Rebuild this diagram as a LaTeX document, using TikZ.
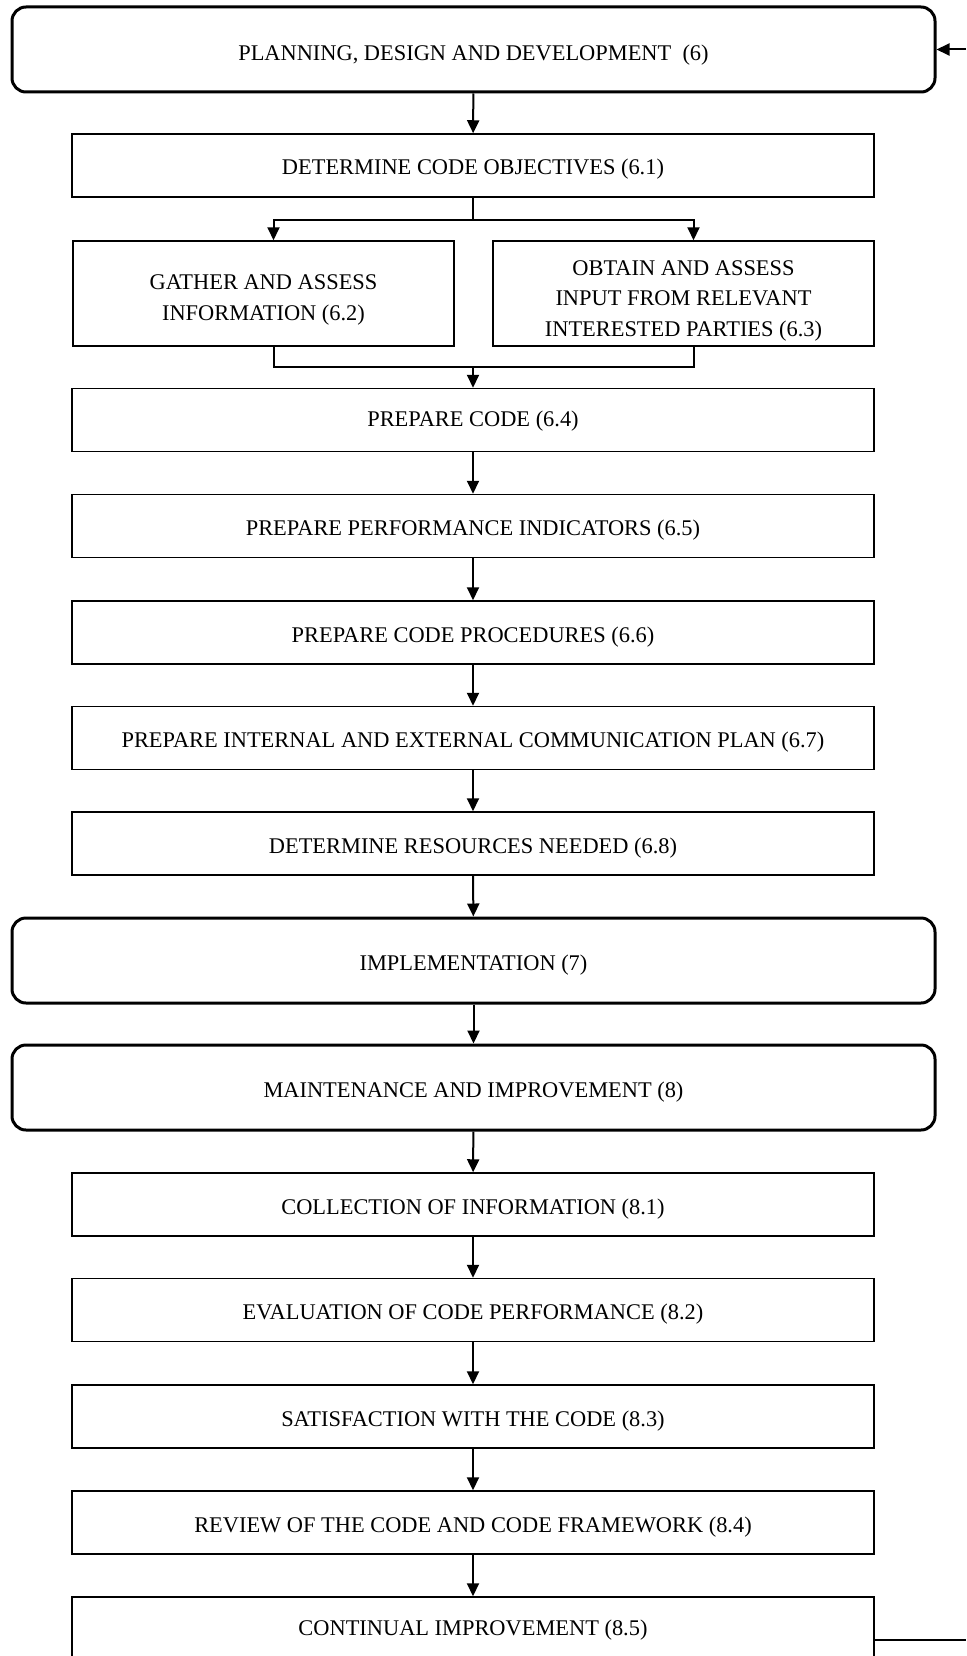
\documentclass[tikz,border=0pt]{standalone}
\usepackage{fontspec}
\setmainfont{Liberation Serif}
\usetikzlibrary{arrows.meta,calc}
\begin{document}
\begin{tikzpicture}[x=1pt,y=-1pt,
  every node/.style={font=\fontsize{22.4}{30.5}\selectfont, align=center, inner sep=0pt},
  stepbox/.style={draw, line width=1.5pt, minimum width=802pt, minimum height=63pt, text height=22pt, text depth=3pt},
  halfbox/.style={draw, line width=1.5pt, minimum width=381pt, minimum height=105pt},
  phasebox/.style={draw, line width=3pt, rounded corners=14pt, minimum width=923pt, minimum height=85pt, text height=22pt, text depth=3pt},
  arr/.style={line width=2pt, -{Triangle[length=13pt,width=12pt]}},
  ln/.style={line width=2pt}]
\clip (0,0) rectangle (966,1656);
\node[phasebox, text height=24pt, text depth=1pt] (plan) at (473.5,49.5) {PLANNING, DESIGN AND DEVELOPMENT\ \ (6)};
\node[stepbox] (obj) at (473,165.5) {DETERMINE CODE OBJECTIVES (6.1)};
\node[halfbox] (gather) at (263.5,293.5) {};
\node (gathertxt) at (263.5,300) {GATHER AND ASSESS\\INFORMATION (6.2)};
\node[halfbox] (obtain) at (683.5,293.5) {};
\node (obtaintxt) at (683.5,300.5) {OBTAIN AND ASSESS\\INPUT FROM RELEVANT\\INTERESTED PARTIES (6.3)};
\node[stepbox, text height=18pt, text depth=5pt] (prep) at (473,420) {PREPARE CODE (6.4)};
\node[stepbox] (perf) at (473,526) {PREPARE PERFORMANCE INDICATORS (6.5)};
\node[stepbox] (proc) at (473,632.5) {PREPARE CODE PROCEDURES (6.6)};
\node[stepbox] (comm) at (473,738) {PREPARE INTERNAL AND EXTERNAL COMMUNICATION PLAN (6.7)};
\node[stepbox] (res) at (473,843.5) {DETERMINE RESOURCES NEEDED (6.8)};
\node[phasebox] (impl) at (473.5,960.5) {IMPLEMENTATION (7)};
\node[phasebox] (maint) at (473.5,1087.5) {MAINTENANCE AND IMPROVEMENT (8)};
\node[stepbox] (coll) at (473,1204.5) {COLLECTION OF INFORMATION (8.1)};
\node[stepbox] (eval) at (473,1310) {EVALUATION OF CODE PERFORMANCE (8.2)};
\node[stepbox] (sat) at (473,1416.5) {SATISFACTION WITH THE CODE (8.3)};
\node[stepbox] (rev) at (473,1522.5) {REVIEW OF THE CODE AND CODE FRAMEWORK (8.4)};
\node[stepbox, text height=18pt, text depth=5pt] (cont) at (473,1628.5) {CONTINUAL IMPROVEMENT (8.5)};
% connectors
\draw[arr] (plan) -- (obj);
\coordinate (split) at (473,220);
\draw[ln] (obj.south) -- (split);
\draw[arr] (split) -| ($(gather.north)+(10,0)$);
\draw[arr] (split) -| ($(obtain.north)+(10,0)$);
\coordinate (merge) at (473,367);
\draw[ln] ($(gather.south)+(10,0)$) |- (merge);
\draw[ln] ($(obtain.south)+(10,0)$) |- (merge);
\draw[arr] (merge) -- (prep);
\draw[arr] (prep) -- (perf);
\draw[arr] (perf) -- (proc);
\draw[arr] (proc) -- (comm);
\draw[arr] (comm) -- (res);
\draw[arr] (res) -- (impl);
\draw[arr] (impl) -- (maint);
\draw[arr] (maint) -- (coll);
\draw[arr] (coll) -- (eval);
\draw[arr] (eval) -- (sat);
\draw[arr] (sat) -- (rev);
\draw[arr] (rev) -- (cont);
\coordinate (fbin) at (966,49.5);
\coordinate (fbout) at (966,1640);
\draw[arr] (fbin) -- (plan.east);
\draw[ln] ($(cont.east)+(0,11.5)$) -- (fbout);
\end{tikzpicture}
\end{document}
